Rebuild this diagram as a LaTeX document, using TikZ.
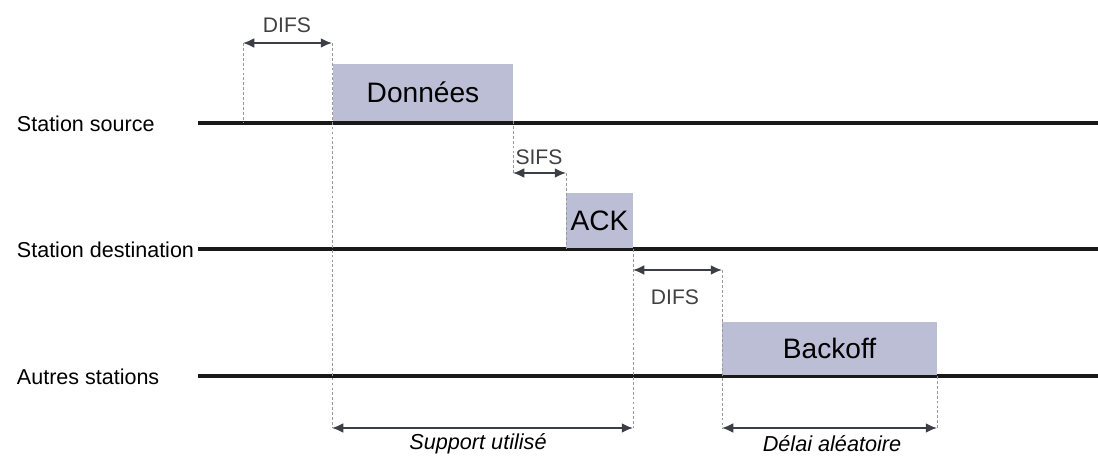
\documentclass[tikz,border=0pt]{standalone}
\usepackage{fontspec}
\setmainfont{Liberation Sans}
\usepackage{xcolor}
\usepackage{tikz}
\usetikzlibrary{arrows.meta}

\definecolor{trame}{RGB}{188,190,214}
\definecolor{fleche}{RGB}{60,62,70}

\begin{document}
\begin{tikzpicture}[x=0.025cm, y=-0.025cm,
    lbl/.style={font=\fontsize{15.3}{18}\selectfont},
    petit/.style={font=\fontsize{15}{18}\selectfont, text=black!75},
    duree/.style={font=\fontsize{15.4}{18}\selectfont\itshape},
    trame box/.style={rectangle, fill=trame, inner sep=0pt, font=\fontsize{20}{24}\selectfont},
    ligne/.style={line width=2.6pt, black!90},
    repere/.style={draw=gray!80, dashed, dash pattern=on 2pt off 1.5pt, line width=0.7pt},
    dim/.style={{Latex[length=8pt,width=7pt]}-{Latex[length=8pt,width=7pt]}, draw=fleche, line width=1.2pt}]
    \useasboundingbox (0,0) rectangle (1098,456);

    % les trois stations
    \foreach \n/\y/\t in {src/123/Station source, dst/249/Station destination, aut/376/Autres stations} {
        \node (l\n) at (12,\y+8) [anchor=base west, lbl] {\t};
        \coordinate (s\n) at (198,\y);
        \coordinate (e\n) at (1098,\y);
        \draw[ligne] (s\n) -- (e\n);
    }

    % trames
    \node (donnees) at (423,92.5) [trame box, minimum width=180*0.025cm, minimum height=57*0.025cm] {Données};
    \node (ack) at (599.5,220.5) [trame box, minimum width=67*0.025cm, minimum height=55*0.025cm] {ACK};
    \node (backoff) at (829.5,348.5) [trame box, minimum width=215*0.025cm, minimum height=53*0.025cm] {Backoff};

    % reperes
    \coordinate (a1) at (243,43);   \coordinate (a2) at (243,123);
    \coordinate (b1) at (332,43);   \coordinate (b2) at (332,428);
    \coordinate (c1) at (513,121);  \coordinate (c2) at (513,173);
    \coordinate (d1) at (566,173);  \coordinate (d2) at (566,249);
    \coordinate (f1) at (633,249);  \coordinate (f2) at (633,270);  \coordinate (f3) at (633,428);
    \coordinate (g1) at (722,270);  \coordinate (g2) at (722,428);
    \coordinate (h1) at (937,376);  \coordinate (h2) at (937,428);

    \draw[repere] (a1) -- (a2);
    \draw[repere] (b1) -- (b2);
    \draw[repere] (c1) -- (c2);
    \draw[repere] (d1) -- (d2);
    \draw[repere] (f1) -- (f3);
    \draw[repere] (g1) -- (g2);
    \draw[repere] (h1) -- (h2);

    % intervalles
    \draw[dim] (a1) -- (b1);
    \draw[dim] (c2) -- (d1);
    \draw[dim] (f2) -- (g1);
    \draw[dim] (b2) -- (f3);
    \draw[dim] (g2) -- (h2);

    \node (difs1) at (287,25) [petit] {DIFS};
    \node (sifs) at (539,157) [petit] {SIFS};
    \node (difs2) at (675,297) [petit] {DIFS};
    \node (support) at (478,444) [duree] {Support utilisé};
    \node (delai) at (832,444) [duree] {Délai aléatoire};
\end{tikzpicture}
\end{document}
